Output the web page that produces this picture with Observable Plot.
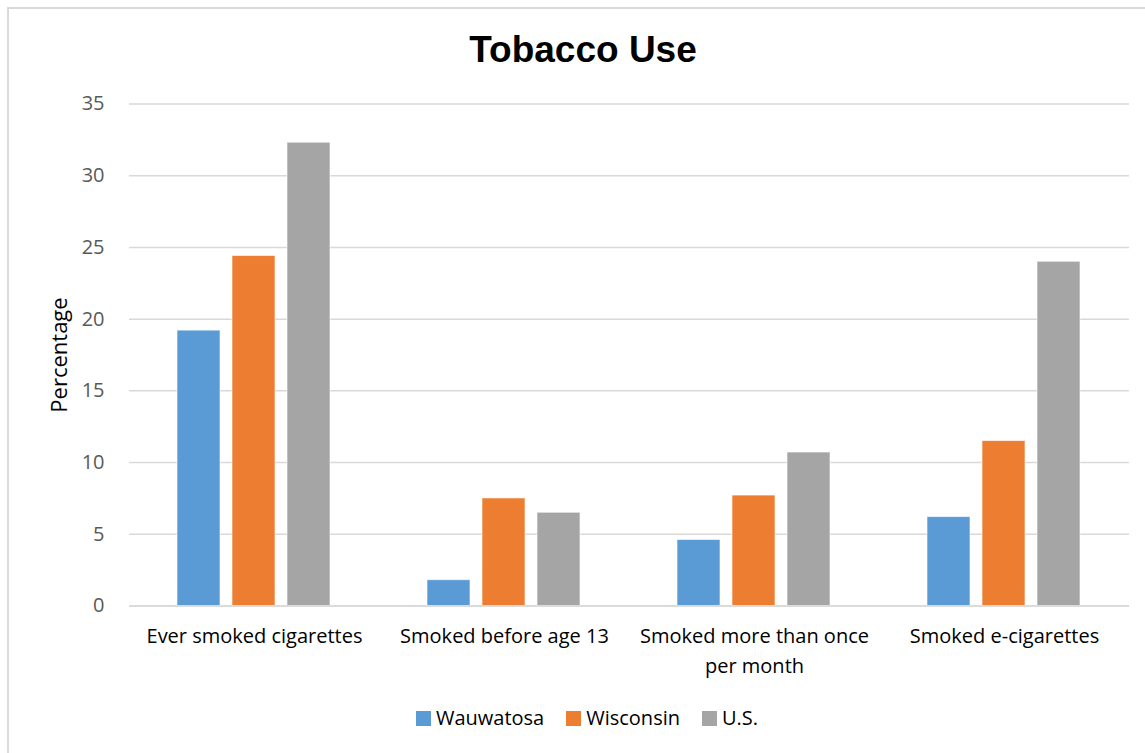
<!DOCTYPE html>
<html><head><meta charset="utf-8">
<script src="https://cdn.jsdelivr.net/npm/d3@7"></script>
<script src="https://cdn.jsdelivr.net/npm/@observablehq/plot@0.6"></script>
<style>
html,body{margin:0;padding:0;background:#fff;}
#wrap{position:relative;width:1145px;height:753px;overflow:hidden;font-family:"Open Sans",Lato,sans-serif;}
#frame{position:absolute;left:7px;top:7px;width:1150px;height:760px;border:2px solid #d9d9d9;box-sizing:border-box;}
#title{position:absolute;left:0;width:1166px;top:29px;text-align:center;font-family:"Liberation Sans",Arial,sans-serif;font-weight:bold;font-size:37px;color:#000;}
#chart{position:absolute;left:0;top:0;}
#legend{position:absolute;left:0;width:1174px;top:704px;text-align:center;font-size:20px;color:#000;}
#legend span.item{margin:0 11px;white-space:nowrap;}
#legend span.sw{display:inline-block;width:15px;height:15px;margin-right:5px;vertical-align:-1px;}
</style></head>
<body><div id="wrap"><div id="frame"></div><div id="title">Tobacco Use</div><div id="chart"></div><div id="legend"></div></div>
<script>
const categories = ["Ever smoked cigarettes", "Smoked before age 13", "Smoked more than once per month", "Smoked e-cigarettes"];
const categoryLabels = ["Ever smoked cigarettes", "Smoked before age 13", "Smoked more than once\nper month", "Smoked e-cigarettes"];
const seriesNames = ["Wauwatosa", "Wisconsin", "U.S."];
const wauwatosa = [19.2, 1.8, 4.6, 6.2];
const wisconsin = [24.4, 7.5, 7.7, 11.5];
const us = [32.3, 6.5, 10.7, 24.0];
const colors = ["#5B9BD5", "#ED7D31", "#A5A5A5"];
const yTicks = [0, 5, 10, 15, 20, 25, 30, 35];

const seriesValues = [wauwatosa, wisconsin, us];
const data = [];
categories.forEach((c, i) => seriesNames.forEach((s, j) => data.push({category: c, series: s, value: seriesValues[j][i]})));

const chart = Plot.plot({
  width: 1145,
  height: 690,
  marginTop: 103.5,
  marginBottom: 84.5,
  marginLeft: 128,
  marginRight: 15,
  style: {fontFamily: "'Open Sans', Lato, sans-serif", fontSize: "20px", background: "transparent"},
  fx: {domain: categories, padding: 0, label: null},
  x: {domain: seriesNames, paddingInner: 0.214, paddingOuter: 0.84, axis: null},
  y: {domain: [0, 35], ticks: yTicks, label: null},
  color: {domain: seriesNames, range: colors},
  marks: [
    Plot.gridY(yTicks, {stroke: "#d9d9d9", strokeOpacity: 1, strokeWidth: 1.5}),
    Plot.barY(data, {fx: "category", x: "series", y: "value", fill: "series", stroke: "#ffffff", strokeOpacity: 0.6, strokeWidth: 1}),
    Plot.axisY(yTicks, {tickSize: 0, tickPadding: 25, fill: "#595959", fontSize: 20, label: null, anchor: "left"}),
    Plot.axisFx({anchor: "bottom", tickSize: 0, tickPadding: 16, fontSize: 20, fill: "#000", lineHeight: 1.5, label: null, tickFormat: (d) => categoryLabels[categories.indexOf(d)]}),
    Plot.ruleY([0], {stroke: "#d9d9d9", strokeWidth: 1.5})
  ]
});
document.getElementById("chart").appendChild(chart);

// y-axis title
const svg = d3.select(chart);
svg.append("text")
  .attr("transform", "translate(67,355) rotate(-90)")
  .attr("text-anchor", "middle")
  .attr("font-size", 22)
  .attr("fill", "#000")
  .text("Percentage");

const legend = document.getElementById("legend");
seriesNames.forEach((s, i) => {
  const item = document.createElement("span");
  item.className = "item";
  item.innerHTML = `<span class="sw" style="background:${colors[i]}"></span>${s}`;
  legend.appendChild(item);
});
</script>
</body></html>
